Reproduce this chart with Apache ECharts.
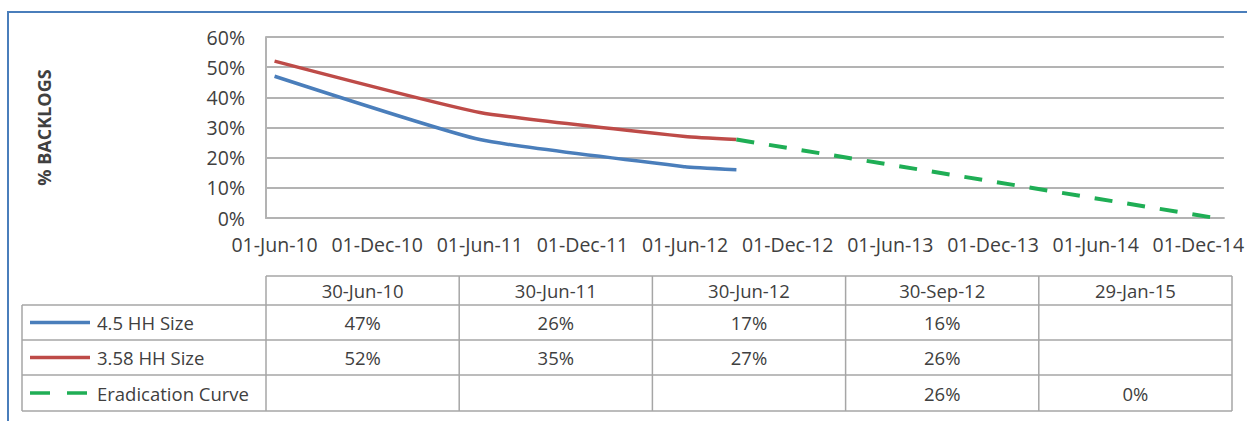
<!DOCTYPE html>
<html>
<head>
<meta charset="utf-8">
<title>% Backlogs</title>
<script src="https://cdn.jsdelivr.net/npm/echarts@6/dist/echarts.min.js"></script>
<style>
  html, body { margin: 0; padding: 0; background: #fff; }
  #chart { width: 1247px; height: 421px; }
</style>
</head>
<body>
<div id="chart"></div>
<script>
// data
const monthNames = ['Jan', 'Feb', 'Mar', 'Apr', 'May', 'Jun', 'Jul', 'Aug', 'Sep', 'Oct', 'Nov', 'Dec'];
const tableDates = ['30-Jun-10', '30-Jun-11', '30-Jun-12', '30-Sep-12', '29-Jan-15'];
const hh45 = [47, 26, 17, 16, null];
const hh358 = [52, 35, 27, 26, null];
const eradication = [null, null, null, 26, 0];
const seriesNames = ['4.5 HH Size', '3.58 HH Size', 'Eradication Curve'];
const yTicks = [0, 10, 20, 30, 40, 50, 60];

// date axis in months (Jun-10 .. Jan-15), like the excel one
const months = [];
for (let y = 2010; y <= 2015; y++) {
  for (let m = 0; m < 12; m++) {
    if (y === 2010 && m < 5) continue;
    if (y === 2015 && m > 0) continue;
    months.push('01-' + monthNames[m] + '-' + String(y).slice(2));
  }
}

const toMonth = (d) => '01-' + d.slice(3);
const pairs = (vals) => tableDates
  .map((d, i) => [toMonth(d), vals[i]])
  .filter((p) => p[1] !== null);

const colors = ['#4a7ebb', '#be4b48', '#1fae55'];
const textColor = '#404040';
const fontFamily = '"Open Sans", "Liberation Sans", sans-serif';

const gridLeft = 266, gridTop = 37, gridW = 966, gridH = 181;

// table under the chart
const tableTop = 276;
const rowH = [29, 35, 35, 36];
const legendLeft = 22;
const colW = gridW / tableDates.length;
const borderColor = '#a6a6a6';

const graphic = [];
// blue frame
graphic.push({
  type: 'rect',
  shape: { x: 8, y: 12, width: 1260, height: 430 },
  style: { fill: 'none', stroke: '#4a7ebb', lineWidth: 2 },
  silent: true
});

const rowY = [tableTop];
rowH.forEach((h, i) => rowY.push(rowY[i] + h));
const tableRight = gridLeft + gridW;

// horizontal borders
rowY.forEach((y, i) => {
  graphic.push({
    type: 'line',
    shape: { x1: i === 0 ? gridLeft : legendLeft, y1: y, x2: tableRight, y2: y },
    style: { stroke: borderColor, lineWidth: 1.5 }
  });
});
// vertical borders
graphic.push({
  type: 'line',
  shape: { x1: legendLeft, y1: rowY[1], x2: legendLeft, y2: rowY[4] },
  style: { stroke: borderColor, lineWidth: 1.5 }
});
for (let c = 0; c <= tableDates.length; c++) {
  const x = gridLeft + c * colW;
  graphic.push({
    type: 'line',
    shape: { x1: x, y1: rowY[0], x2: x, y2: rowY[4] },
    style: { stroke: borderColor, lineWidth: 1.5 }
  });
}
const cellFont = '18.5px ' + fontFamily;
// header
tableDates.forEach((d, c) => {
  graphic.push({
    type: 'text',
    x: gridLeft + (c + 0.5) * colW,
    y: (rowY[0] + rowY[1]) / 2,
    style: { text: d, fill: textColor, font: cellFont, align: 'center', verticalAlign: 'middle' }
  });
});
// body rows
[hh45, hh358, eradication].forEach((vals, r) => {
  const cy = (rowY[r + 1] + rowY[r + 2]) / 2;
  graphic.push({
    type: 'line',
    shape: { x1: 30, y1: cy, x2: 90, y2: cy },
    style: { stroke: colors[r], lineWidth: 3.5, lineDash: r === 2 ? [20, 17] : null }
  });
  graphic.push({
    type: 'text',
    x: 97,
    y: cy,
    style: { text: seriesNames[r], fill: textColor, font: cellFont, align: 'left', verticalAlign: 'middle' }
  });
  vals.forEach((v, c) => {
    if (v === null) return;
    graphic.push({
      type: 'text',
      x: gridLeft + (c + 0.5) * colW,
      y: cy,
      style: { text: v + '%', fill: textColor, font: cellFont, align: 'center', verticalAlign: 'middle' }
    });
  });
});

const chart = echarts.init(document.getElementById('chart'), null, { renderer: 'svg' });

chart.setOption({
  animation: false,
  backgroundColor: '#fff',
  grid: { left: gridLeft, top: gridTop, width: gridW, height: gridH, containLabel: false },
  xAxis: {
    type: 'category',
    data: months,
    boundaryGap: true,
    axisLine: { show: true, lineStyle: { color: '#b3b3b3', width: 2 } },
    axisTick: { show: false },
    axisLabel: {
      interval: 5,
      color: textColor,
      fontFamily: fontFamily,
      fontSize: 19.5,
      margin: 16,
      hideOverlap: false
    }
  },
  yAxis: {
    type: 'value',
    min: yTicks[0],
    max: yTicks[yTicks.length - 1],
    interval: 10,
    name: '% BACKLOGS',
    nameLocation: 'middle',
    nameRotate: 90,
    nameGap: 213,
    nameTextStyle: { color: textColor, fontFamily: fontFamily, fontSize: 18, fontWeight: 'bold' },
    axisLine: { show: true, lineStyle: { color: '#b3b3b3', width: 2 } },
    axisTick: { show: false },
    axisLabel: {
      formatter: '{value}%',
      color: textColor,
      fontFamily: fontFamily,
      fontSize: 19.5,
      margin: 21
    },
    splitLine: { lineStyle: { color: '#b3b3b3', width: 2 } }
  },
  series: [
    {
      name: seriesNames[0],
      type: 'line',
      data: pairs(hh45),
      smooth: 0.15,
      showSymbol: false,
      lineStyle: { color: colors[0], width: 3.5 }
    },
    {
      name: seriesNames[1],
      type: 'line',
      data: pairs(hh358),
      smooth: 0.15,
      showSymbol: false,
      lineStyle: { color: colors[1], width: 3.5 }
    },
    {
      name: seriesNames[2],
      type: 'line',
      data: pairs(eradication),
      showSymbol: false,
      lineStyle: { color: colors[2], width: 4, type: [18, 15] }
    }
  ],
  graphic: graphic
});
</script>
</body>
</html>
